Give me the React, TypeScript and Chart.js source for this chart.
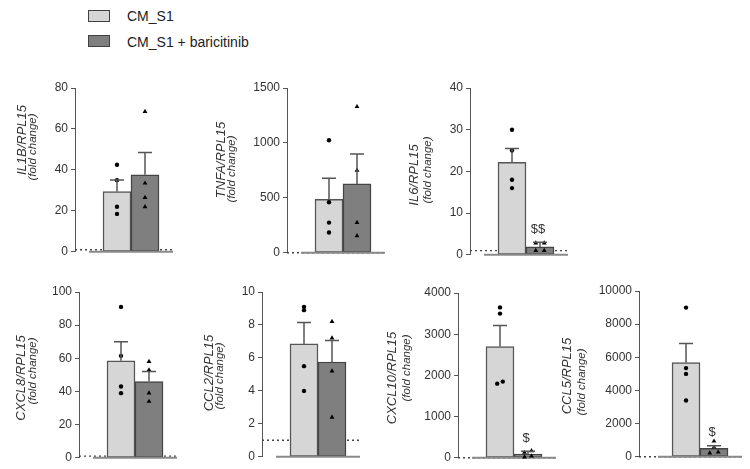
import React, { useEffect, useRef } from 'react';
import { Chart, registerables } from 'chart.js';

Chart.register(...registerables);

const FONT = "'Liberation Sans', Arial, sans-serif";

const groups = ['CM_S1', 'CM_S1 + baricitinib'];

// IL1B
const il1bMean = [29.4, 37.6];
const il1bSem = [5.7, 10.9];
const il1bCtrl = [42.5, 35, 22, 18.5];
const il1bBari = [68.5, 33.5, 26.5, 22];
const il1bTicks = [0, 20, 40, 60, 80];

// TNFA
const tnfaMean = [486, 627];
const tnfaSem = [192, 273];
const tnfaCtrl = [1025, 460, 275, 185];
const tnfaBari = [1330, 750, 275, 155];
const tnfaTicks = [0, 500, 1000, 1500];

// IL6
const il6Mean = [22.2, 1.9];
const il6Sem = [3.3, 1.1];
const il6Ctrl = [30, 25, 18, 16];
const il6Bari = [2.8, 2.8, 1.0, 1.0];
const il6Ticks = [0, 10, 20, 30, 40];

// CXCL8
const cxcl8Mean = [58.5, 46];
const cxcl8Sem = [11.5, 6];
const cxcl8Ctrl = [91, 61.5, 43, 39];
const cxcl8Bari = [58, 53, 39, 34];
const cxcl8Ticks = [0, 20, 40, 60, 80, 100];

// CCL2
const ccl2Mean = [6.85, 5.75];
const ccl2Sem = [1.3, 1.3];
const ccl2Ctrl = [9.1, 8.9, 5.5, 4.0];
const ccl2Bari = [8.2, 7.2, 5.2, 2.4];
const ccl2Ticks = [0, 2, 4, 6, 8, 10];

// CXCL10
const cxcl10Mean = [2700, 90];
const cxcl10Sem = [510, 70];
const cxcl10Ctrl = [3650, 3500, 1850, 1800];
const cxcl10Bari = [170, 130, 40, 20];
const cxcl10Ticks = [0, 1000, 2000, 3000, 4000];

// CCL5
const ccl5Mean = [5690, 505];
const ccl5Sem = [1150, 165];
const ccl5Ctrl = [9000, 5350, 5000, 3400];
const ccl5Bari = [940, 580, 280, 220];
const ccl5Ticks = [0, 2000, 4000, 6000, 8000, 10000];

const referenceLevel = 1;

type Panel = {
  gene: string;
  mean: number[];
  sem: number[];
  ctrl: number[];
  bari: number[];
  ticks: number[];
  mark: string;
  // layout (page pixels)
  axisX: number;
  top: number;
  bottom: number;
  xMin: number;
  t1: [number, number];
  t2: [number, number];
  j1: number[];
  j2: number[];
};

const Z = [0, 0, 0, 0];

const panels: Panel[] = [
  { gene: 'IL1B/RPL15', mean: il1bMean, sem: il1bSem, ctrl: il1bCtrl, bari: il1bBari, ticks: il1bTicks, mark: '',
    axisX: 75, top: 88, bottom: 252, xMin: 0, t1: [-53, 140], t2: [-42, 147], j1: Z, j2: Z },
  { gene: 'TNFA/RPL15', mean: tnfaMean, sem: tnfaSem, ctrl: tnfaCtrl, bari: tnfaBari, ticks: tnfaTicks, mark: '',
    axisX: 287, top: 88, bottom: 253, xMin: 0, t1: [-66, 160], t2: [-55, 169], j1: Z, j2: Z },
  { gene: 'IL6/RPL15', mean: il6Mean, sem: il6Sem, ctrl: il6Ctrl, bari: il6Bari, ticks: il6Ticks, mark: '$$',
    axisX: 470, top: 88, bottom: 255, xMin: 0, t1: [-56, 175], t2: [-42, 170], j1: Z, j2: [-0.3, 0.3, -0.3, 0.3] },
  { gene: 'CXCL8/RPL15', mean: cxcl8Mean, sem: cxcl8Sem, ctrl: cxcl8Ctrl, bari: cxcl8Bari, ticks: cxcl8Ticks, mark: '',
    axisX: 79, top: 292, bottom: 458, xMin: 0, t1: [-58, 378], t2: [-46, 371], j1: Z, j2: Z },
  { gene: 'CCL2/RPL15', mean: ccl2Mean, sem: ccl2Sem, ctrl: ccl2Ctrl, bari: ccl2Bari, ticks: ccl2Ticks, mark: '',
    axisX: 262, top: 292, bottom: 457, xMin: 0, t1: [-53, 373], t2: [-42, 376], j1: Z, j2: Z },
  { gene: 'CXCL10/RPL15', mean: cxcl10Mean, sem: cxcl10Sem, ctrl: cxcl10Ctrl, bari: cxcl10Bari, ticks: cxcl10Ticks, mark: '$',
    axisX: 458, top: 293, bottom: 458, xMin: 0, t1: [-66, 378], t2: [-51, 368], j1: [0, 0, 0.2, -0.2], j2: [0.25, -0.25, 0.25, -0.25] },
  { gene: 'CCL5/RPL15', mean: ccl5Mean, sem: ccl5Sem, ctrl: ccl5Ctrl, bari: ccl5Bari, ticks: ccl5Ticks, mark: '$',
    axisX: 639, top: 291, bottom: 457, xMin: -0.36, t1: [-72, 376], t2: [-57, 382], j1: Z, j2: [0, 0, 0.3, -0.3] },
];

const BAR_X = [3, 5];
const X_MAX = 7;
const UNIT = 14;
const LEFT_SPACE = 80;
const AXIS_W = 40;
const PAD_TOP = 14;
const PAD_BOTTOM = 10;
const PAD_RIGHT = 6;

const FILL = ['#d6d6d6', '#7f7f7f'];
const EDGE = ['#555555', '#444444'];

function PanelChart({ p }: { p: Panel }) {
  const ref = useRef<HTMLCanvasElement | null>(null);
  const width = LEFT_SPACE + (X_MAX - p.xMin) * UNIT + PAD_RIGHT;
  const height = p.bottom - p.top + PAD_TOP + PAD_BOTTOM;
  const left = p.axisX - LEFT_SPACE;
  const top = p.top - PAD_TOP;

  useEffect(() => {
    if (!ref.current) return;
    const extras = {
      id: 'extras',
      afterDatasetsDraw(chart: any) {
        const ctx = chart.ctx;
        const ys = chart.scales.y;
        const meta = chart.getDatasetMeta(0);
        ctx.save();
        meta.data.forEach((el: any, i: number) => {
          const yTop = ys.getPixelForValue(p.mean[i]);
          const ySem = ys.getPixelForValue(p.mean[i] + p.sem[i]);
          ctx.strokeStyle = '#555';
          ctx.lineWidth = 1.5;
          ctx.beginPath();
          ctx.moveTo(el.x, yTop);
          ctx.lineTo(el.x, ySem);
          ctx.moveTo(el.x - 7, ySem);
          ctx.lineTo(el.x + 7, ySem);
          ctx.stroke();
          if (i === 1 && p.mark) {
            ctx.fillStyle = '#333';
            ctx.font = `13px ${FONT}`;
            ctx.textAlign = 'center';
            ctx.textBaseline = 'middle';
            ctx.fillText(p.mark, el.x - 2, ySem - 13);
          }
        });
        ctx.restore();
      },
      afterDraw(chart: any) {
        const ctx = chart.ctx;
        const ca = chart.chartArea;
        ctx.save();
        ctx.fillStyle = '#333';
        ctx.textAlign = 'center';
        ctx.textBaseline = 'middle';
        ctx.translate(ca.left + p.t1[0], p.t1[1] - top);
        ctx.rotate(-Math.PI / 2);
        ctx.font = `italic 13px ${FONT}`;
        ctx.fillText(p.gene, 0, 0);
        ctx.restore();
        ctx.save();
        ctx.fillStyle = '#333';
        ctx.textAlign = 'center';
        ctx.textBaseline = 'middle';
        ctx.translate(ca.left + p.t2[0], p.t2[1] - top);
        ctx.rotate(-Math.PI / 2);
        ctx.font = `italic 11.5px ${FONT}`;
        ctx.fillText('(fold change)', 0, 0);
        ctx.restore();
      },
    };

    const chart = new Chart(ref.current, {
      type: 'bar',
      data: {
        datasets: [
          {
            type: 'bar',
            label: 'mean',
            data: p.mean.map((m, i) => ({ x: BAR_X[i], y: m })),
            backgroundColor: FILL,
            borderColor: EDGE,
            borderWidth: 1.5,
            barThickness: 28,
            borderSkipped: false,
            order: 3,
          } as any,
          {
            type: 'line',
            label: 'ref',
            data: [{ x: p.xMin, y: referenceLevel }, { x: X_MAX, y: referenceLevel }],
            borderColor: '#444',
            borderWidth: 1.4,
            borderDash: [2, 3],
            pointRadius: 0,
            clip: false,
            order: 4,
          } as any,
          {
            type: 'line',
            label: 'base',
            data: [{ x: 1, y: 0 }, { x: X_MAX, y: 0 }],
            borderColor: '#8a8a8a',
            borderWidth: 2,
            pointRadius: 0,
            clip: false,
            order: 2,
          } as any,
          {
            type: 'scatter',
            label: groups[0],
            data: p.ctrl.map((v, i) => ({ x: BAR_X[0] + p.j1[i], y: v })),
            pointStyle: 'circle',
            pointRadius: 2.2,
            backgroundColor: '#000',
            borderColor: '#000',
            borderWidth: 0,
            clip: false,
            order: 0,
          } as any,
          {
            type: 'scatter',
            label: groups[1],
            data: p.bari.map((v, i) => ({ x: BAR_X[1] + p.j2[i], y: v })),
            pointStyle: 'triangle',
            pointRadius: 2.8,
            backgroundColor: '#000',
            borderColor: '#000',
            borderWidth: 0,
            clip: false,
            order: 0,
          } as any,
        ],
      },
      options: {
        responsive: false,
        animation: false,
        events: [],
        layout: { padding: { left: LEFT_SPACE - AXIS_W, top: PAD_TOP, bottom: PAD_BOTTOM, right: PAD_RIGHT } },
        plugins: { legend: { display: false }, tooltip: { enabled: false }, title: { display: false } },
        scales: {
          x: { type: 'linear', min: p.xMin, max: X_MAX, display: false, offset: false, grid: { offset: false } },
          y: {
            type: 'linear',
            min: p.ticks[0],
            max: p.ticks[p.ticks.length - 1],
            afterBuildTicks: (s: any) => {
              s.ticks = p.ticks.map((v) => ({ value: v }));
            },
            afterFit: (s: any) => {
              s.width = AXIS_W;
            },
            ticks: {
              color: '#333',
              font: { family: FONT, size: 12 },
              padding: 3,
              callback: (v: any) => String(v),
            },
            grid: { drawOnChartArea: false, drawTicks: true, tickLength: 4, color: '#555', lineWidth: 1 },
            border: { color: '#555', width: 1 },
          },
        },
      } as any,
      plugins: [extras],
    });
    return () => chart.destroy();
  }, []);

  return (
    <canvas
      ref={ref}
      width={width}
      height={height}
      style={{ position: 'absolute', left, top, width, height }}
    />
  );
}

export default function App() {
  const legendBox = (fill: string, y: number) => (
    <div
      style={{
        position: 'absolute',
        left: 88,
        top: y,
        width: 20,
        height: 10,
        background: fill,
        border: '1.5px solid #404040',
      }}
    />
  );
  const legendText = (text: string, y: number) => (
    <div
      style={{
        position: 'absolute',
        left: 127,
        top: y,
        fontFamily: FONT,
        fontSize: 14,
        lineHeight: '16px',
        color: '#222',
        whiteSpace: 'nowrap',
      }}
    >
      {text}
    </div>
  );
  return (
    <div style={{ position: 'absolute', left: 0, top: 0, width: 750, height: 469, background: '#fff', overflow: 'hidden' }}>
      {legendBox(FILL[0], 10)}
      {legendText(groups[0], 8)}
      {legendBox(FILL[1], 35)}
      {legendText(groups[1], 34)}
      {panels.map((p) => (
        <PanelChart key={p.gene} p={p} />
      ))}
    </div>
  );
}
